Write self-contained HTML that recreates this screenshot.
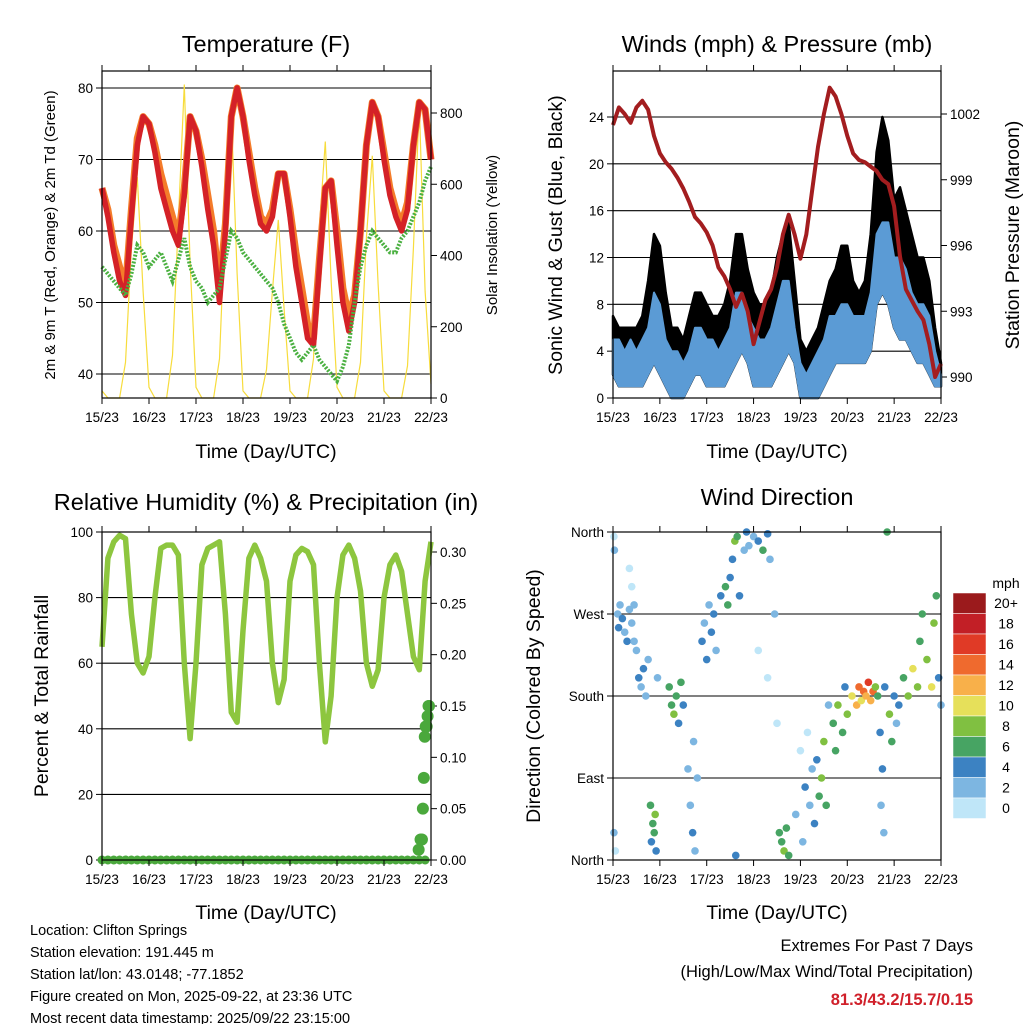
<!DOCTYPE html>
<html><head><meta charset="utf-8"><style>
body{margin:0;background:#fff;}
svg{display:block;font-family:"Liberation Sans",sans-serif;}
</style></head><body>
<svg id="root" width="1024" height="1024" viewBox="0 0 1024 1024" xmlns="http://www.w3.org/2000/svg"></svg>
<script>
// ---------- DATA (3-hourly, starting day 15 00Z) ----------
const xTickLabels = ["15/23","16/23","17/23","18/23","19/23","20/23","21/23","22/23"];
const tempRed = [66,62,57,53,51,62,72,76,75,71,66,63,60,58,65,76,74,69,63,58,50,60,76,80,76,70,65,61,60,62,68,68,62,55,50,45,44,55,66,67,58,50,46,50,60,72,78,76,70,65,62,60,63,72,78,77,70];
const tempOrange = [66,63,58,55,52,63,73,76,75,72,68,65,62,59,66,76,74,70,65,60,52,61,76,80,76,71,66,62,61,63,68,68,63,57,52,47,45,56,66,67,60,52,48,51,60,72,78,76,71,66,63,61,64,72,78,77,70];
const dewGreen = [55,54,53,52,51,54,58,57,55,56,57,55,53,56,59,55,53,52,50,51,52,56,60,59,57,56,55,54,53,52,50,47,45,43,42,43,44,42,41,40,39,41,44,50,55,58,60,59,58,57,57,59,60,62,64,67,69];
const solar = [20,0,0,0,100,420,620,300,30,0,0,0,120,500,880,380,30,0,0,0,110,520,800,350,20,0,0,0,80,300,500,250,20,0,0,0,110,480,720,330,30,0,0,0,100,450,680,320,20,0,0,0,90,420,820,300,40];
const windLo = [2,1,1,1,1,1,2,3, 2,1,0,0,0,1,2,2, 1,1,1,1,2,3,4,3, 1,1,1,1,2,3,4,3, 0,0,0,0,1,2,3,3, 3,3,3,3,4,8,9,8, 6,5,5,4,3,3,2,1, 1];
const windHi = [5,5,4,5,4,5,6,9, 8,5,4,4,3,4,6,6, 5,5,4,5,6,9,9,7, 6,5,5,6,8,10,10,6, 3,2,3,4,5,7,7,8, 8,7,7,7,9,14,15,15, 12,12,11,9,8,8,7,4, 2];
const gustHi = [7,6,6,6,6,7,10,14, 13,9,6,6,5,7,9,9, 8,7,7,8,10,14,14,11, 9,8,8,9,12,14,15,10, 5,4,5,6,8,10,11,13, 13,10,9,10,14,21,24,22, 17,18,16,14,12,12,10,6, 3];
const pressure = [1001.5,1002.3,1002.0,1001.6,1002.3,1002.6,1002.2,1001.0,1000.2,999.8,999.5,999.1,998.6,998.0,997.3,997.0,996.6,996.0,995.0,994.6,994.0,993.2,993.8,993.0,991.5,992.5,993.5,994.0,995.0,996.5,997.4,996.5,995.4,996.5,998.5,1000.5,1002.0,1003.2,1002.8,1002.0,1001.0,1000.2,999.9,999.8,999.6,999.4,999.0,998.8,997.8,995.5,994.0,993.5,993.0,992.6,991.5,990.0,990.6];
const rh = [65,92,97,99,98,75,60,57,62,80,95,96,96,93,60,37,60,90,95,96,97,75,45,42,70,92,96,92,85,60,48,55,85,93,95,94,90,60,36,50,80,93,96,92,82,60,53,58,80,90,93,88,75,62,58,85,97];
const precipTime = [6.78,6.82,6.85,6.87,6.89,6.91,6.93,6.95,6.97,6.99,7.0];
const precipVal = [0.01,0.02,0.02,0.05,0.08,0.12,0.13,0.13,0.14,0.15,0.15];
const wdTime = [0.02,0.03,0.05,0.02,0.1,0.12,0.15,0.2,0.25,0.3,0.35,0.4,0.35,0.4,0.45,0.45,0.5,0.55,0.6,0.65,0.7,0.75,0.8,0.85,0.88,0.9,0.82,0.92,0.95,1.2,1.25,1.3,1.35,1.4,1.45,1.5,1.6,1.65,1.7,1.72,1.75,1.8,1.9,1.95,2.0,2.05,2.1,2.15,2.2,2.3,2.4,2.45,2.5,2.55,2.6,2.65,2.7,2.62,2.8,2.85,2.9,3.0,3.1,3.2,3.3,3.35,3.1,3.3,3.5,3.55,3.6,3.65,3.7,3.75,3.45,3.9,4.0,4.05,4.1,4.15,4.2,4.25,4.3,4.35,4.4,4.45,4.5,4.55,4.6,4.7,4.75,4.8,4.9,4.95,5.0,5.1,5.2,5.25,5.3,5.35,5.4,5.45,5.5,5.55,5.6,5.65,5.7,5.72,5.75,5.78,5.8,5.85,5.9,5.95,6.0,6.05,6.1,6.2,6.3,6.4,6.5,6.55,6.6,6.7,6.8,6.85,6.9,6.95,7.0];
const wdDir = [355,340,10,30,270,255,280,265,250,240,275,260,320,300,240,280,230,200,190,210,180,220,60,40,30,50,20,10,200,190,170,160,180,150,195,170,100,60,30,130,10,90,240,260,220,280,250,270,230,290,300,280,310,330,350,355,290,5,340,360,345,355,350,340,358,330,230,200,150,30,20,10,35,5,270,50,120,20,80,140,60,100,40,110,70,90,130,60,170,150,120,170,140,190,160,180,170,190,175,185,180,195,175,185,190,180,140,60,100,30,190,360,160,130,180,150,170,200,180,210,190,240,270,220,190,260,290,200,170];
const wdSpd = [1,2,1,2,3,4,3,4,3,4,3,2,1,1,2,3,3,4,3,4,3,2,6,7,6,8,5,4,3,6,7,8,6,5,7,4,3,3,4,3,2,3,4,3,4,3,4,5,3,4,7,6,5,4,8,6,4,5,3,4,3,2,4,6,5,3,1,1,1,7,6,8,6,7,2,2,1,3,4,1,3,2,4,5,7,9,8,6,3,6,7,8,6,5,8,10,12,14,11,15,13,16,12,14,9,6,4,3,4,3,5,6,8,6,4,3,5,7,8,10,9,7,6,8,10,8,6,4,3];
const speedLabels = ["20+","18","16","14","12","10","8","6","4","2","0"];
const speedColors = ["#9b1a1c","#c21f26","#e03a26","#ef6a2e","#f8b04a","#e6e05a","#80c041","#47a463","#3c82c2","#7db6e1","#bfe6f8"];

// ---------- HELPERS ----------
const NS="http://www.w3.org/2000/svg";
const root=document.getElementById('root');
function mk(tag,attrs,parent){const e=document.createElementNS(NS,tag);for(const k in attrs)e.setAttribute(k,attrs[k]);(parent||root).appendChild(e);return e;}
function txt(s,x,y,size,anchor,parent,extra){const e=mk('text',Object.assign({x:x,y:y,'font-size':size,'text-anchor':anchor||'middle',fill:'#000'},extra||{}),parent);e.textContent=s;return e;}
function lin(d0,d1,r0,r1){return v=>r0+(v-d0)/(d1-d0)*(r1-r0);}

function frame(g,x0,x1,y0,y1){
  mk('rect',{x:x0,y:y0,width:x1-x0,height:y1-y0,fill:'none',stroke:'#000','stroke-width':1.2},g);
  const xs=lin(0,7,x0,x1);
  for(let i=0;i<8;i++){
    const X=xs(i);
    mk('line',{x1:X,y1:y1,x2:X,y2:y1+6,stroke:'#000'},g);
    mk('line',{x1:X,y1:y0,x2:X,y2:y0-6,stroke:'#000'},g);
    const t=txt(xTickLabels[i],X,y1+24,13.5,'middle',g);
    
    
  }
  return xs;
}
function yAxis(g,vals,labels,sy,x,side,grid,x0,x1){
  vals.forEach((v,i)=>{
    const Y=sy(v);
    if(grid) mk('line',{x1:x0,y1:Y,x2:x1,y2:Y,stroke:'#000','stroke-width':1.1},g);
    mk('line',{x1:x,y1:Y,x2:x+(side<0?-6:6),y2:Y,stroke:'#000'},g);
    const t=txt(labels[i],x+(side<0?-9:9),Y+5,13.5,side<0?'end':'start',g);
    
    
  });
}
function path(pts){return pts.map((p,i)=>(i?'L':'M')+p[0].toFixed(1)+' '+p[1].toFixed(1)).join(' ');}
function rotText(s,x,y,size,parent){return txt(s,x,y,size,'middle',parent,{transform:`rotate(-90 ${x} ${y})`});}

// ---------- PANEL 1: TEMPERATURE ----------
{
const g=mk('g',{});


const X0=102,X1=431,Y0=71,Y1=398;
const sy=lin(40,80,374,88), ss=lin(0,800,398,113);
const tx=i=>X0+i*(X1-X0)/56;
yAxis(g,[40,50,60,70,80],["40","50","60","70","80"],sy,X0,-1,true,X0,X1);
yAxis(g,[0,200,400,600,800],["0","200","400","600","800"],ss,X1,1,false);
const sp=mk('path',{d:path(solar.map((v,i)=>[tx(i),ss(v)])),fill:'none',stroke:'#f7dc3c','stroke-width':1.2},g);


const op=mk('path',{d:path(tempOrange.map((v,i)=>[tx(i),sy(v)])),fill:'none',stroke:'#f47c2a','stroke-width':7,'stroke-linejoin':'round'},g);


const rp=mk('path',{d:path(tempRed.map((v,i)=>[tx(i),sy(v)])),fill:'none',stroke:'#d42127','stroke-width':5.5,'stroke-linejoin':'round'},g);


const gp=mk('path',{d:path(dewGreen.map((v,i)=>[tx(i),sy(v)])),fill:'none',stroke:'#4ab040','stroke-width':4,'stroke-dasharray':'2 1.5'},g);


frame(g,X0,X1,Y0,Y1);
const t=txt('Temperature (F)',266,52,23.5,'middle',g);


const xl=txt('Time (Day/UTC)',266,458,19.5,'middle',g);


const yl=rotText('2m & 9m T (Red, Orange) & 2m Td (Green)',55,235,15,g);


const yr=rotText('Solar Insolation (Yellow)',497,235,15,g);


}

// ---------- PANEL 2: WINDS ----------
{
const g=mk('g',{});


const X0=613,X1=941,Y0=71,Y1=398;
const sy=lin(0,24,398,117), sp=lin(990,1002,377,114);
const tx=i=>X0+i*(X1-X0)/56;
yAxis(g,[0,4,8,12,16,20,24],["0","4","8","12","16","20","24"],sy,X0,-1,true,X0,X1);
yAxis(g,[990,993,996,999,1002],["990","993","996","999","1002"],sp,X1,1,false);
const band=(lo,hi)=>{const a=lo.map((v,i)=>[tx(i),sy(v)]);const b=hi.map((v,i)=>[tx(i),sy(v)]).reverse();return path(a.concat(b))+'Z';};
const gb=mk('path',{d:band(windLo,gustHi),fill:'#000',stroke:'#000','stroke-width':2.5,'stroke-linejoin':'round'},g);


const wb=mk('path',{d:band(windLo,windHi),fill:'#5b9bd5',stroke:'#5b9bd5','stroke-width':2,'stroke-linejoin':'round'},g);


const pl=mk('path',{d:path(pressure.map((v,i)=>[tx(i),sp(v)])),fill:'none',stroke:'#a31d1f','stroke-width':4,'stroke-linejoin':'round'},g);


frame(g,X0,X1,Y0,Y1);
const t=txt('Winds (mph) & Pressure (mb)',777,52,23.5,'middle',g);


const xl=txt('Time (Day/UTC)',777,458,19.5,'middle',g);


const yl=rotText('Sonic Wind & Gust (Blue, Black)',562,235,19.5,g);


const yr=rotText('Station Pressure (Maroon)',1019,235,19.5,g);


}

// ---------- PANEL 3: RH & PRECIP ----------
{
const g=mk('g',{});


const X0=102,X1=431,Y0=532,Y1=860;
const sy=lin(0,100,860,532), sr=lin(0,0.30,860,552);
const tx=i=>X0+i*(X1-X0)/56, td=d=>X0+d*(X1-X0)/7;
yAxis(g,[0,20,40,60,80,100],["0","20","40","60","80","100"],sy,X0,-1,true,X0,X1);
yAxis(g,[0,0.05,0.10,0.15,0.20,0.25,0.30],["0.00","0.05","0.10","0.15","0.20","0.25","0.30"],sr,X1,1,false);
const rl=mk('path',{d:path(rh.map((v,i)=>[tx(i),sy(v)])),fill:'none',stroke:'#8dc63f','stroke-width':5.5,'stroke-linejoin':'round'},g);


for(let i=0;i<56;i++){
  const c=mk('circle',{cx:tx(i),cy:sr(0),r:4.5,fill:'#4aa83c'},g);
  
  
}
precipTime.forEach((d,i)=>{
  const c=mk('circle',{cx:td(d)-2,cy:sr(precipVal[i]),r:6,fill:'#4aa83c'},g);
  
  
});
frame(g,X0,X1,Y0,Y1);
const t=txt('Relative Humidity (%) & Precipitation (in)',266,510,23.5,'middle',g);


const xl=txt('Time (Day/UTC)',266,919,19.5,'middle',g);


const yl=rotText('Percent & Total Rainfall',48,696,19.5,g);


}

// ---------- PANEL 4: WIND DIRECTION ----------
{
const g=mk('g',{});


const X0=613,X1=941,Y0=532,Y1=860;
const sy=lin(0,360,860,532), td=d=>X0+d*(X1-X0)/7;
yAxis(g,[0,90,180,270,360],["North","East","South","West","North"],sy,X0,-1,true,X0,X1);
const bin=s=>speedColors[10-Math.min(10,Math.floor(s/2))];
wdTime.forEach((d,i)=>{
  const c=mk('circle',{cx:td(d),cy:sy(wdDir[i]),r:3.8,fill:bin(wdSpd[i])},g);
  
  
});
frame(g,X0,X1,Y0,Y1);
const t=txt('Wind Direction',777,505,23.5,'middle',g);


const xl=txt('Time (Day/UTC)',777,919,19.5,'middle',g);


const yl=rotText('Direction (Colored By Speed)',540,696,19.5,g);


// colorbar
const lg=mk('g',{},g);


const mt=txt('mph',1006,588,14,'middle',lg);


speedLabels.forEach((l,i)=>{
  const y=593+i*20.5;
  const r=mk('rect',{x:953,y:y,width:33,height:20.5,fill:speedColors[i],stroke:'#fff','stroke-width':0.5},lg);
  
  
  const tl=txt(l,1006,y+15,14,'middle',lg);
  
  
});
}

// ---------- FOOTER TEXT ----------
{
const g=mk('g',{});


["Location: Clifton Springs","Station elevation: 191.445 m","Station lat/lon: 43.0148; -77.1852","Figure created on Mon, 2025-09-22, at 23:36 UTC","Most recent data timestamp: 2025/09/22 23:15:00"].forEach((s,i)=>{
  const t=txt(s,30,935+i*22,14.5,'start',g);
  
  
});
const g2=mk('g',{});


const a=txt('Extremes For Past 7 Days',973,951,16.5,'end',g2);


const b=txt('(High/Low/Max Wind/Total Precipitation)',973,977,16.5,'end',g2);


const c=txt('81.3/43.2/15.7/0.15',973,1005,16.5,'end',g2,{fill:'#d0202a','font-weight':'bold'});


}
</script>
</body></html>
